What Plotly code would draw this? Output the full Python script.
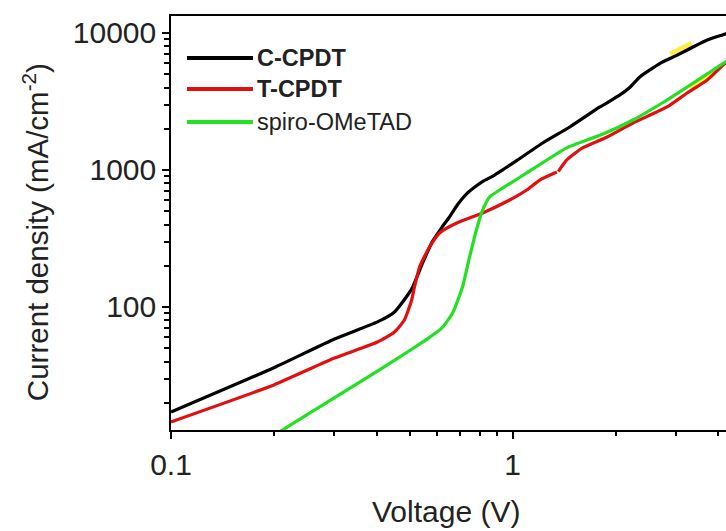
import plotly.graph_objects as go
import math

# ---- data ----
c_cpdt_v = [0.1, 0.2, 0.301, 0.402, 0.451, 0.506, 0.545, 0.582, 0.62, 0.653, 0.69, 0.733,
            0.78, 0.82, 0.873, 0.95, 1.027, 1.224, 1.469, 1.80, 2.05, 2.2, 2.36, 2.70, 3.0,
            3.37, 3.71, 4.19, 4.4]
c_cpdt_j = [17.1, 36, 58.4, 77.8, 92, 135, 210, 300, 380, 454, 560, 670,
            760, 830, 900, 1030, 1170, 1574, 2060, 2884, 3500, 4000, 4800, 6000, 6800,
            7900, 8890, 9840, 10300]

t_cpdt_v = [0.1, 0.2, 0.301, 0.402, 0.451, 0.482, 0.506, 0.516, 0.534, 0.571, 0.611, 0.686,
            0.817, 0.980, 1.099, 1.20, 1.346, None, 1.36, 1.44, 1.60, 1.89, 2.25, 2.83, 3.24,
            3.71, 4.19, 4.4]
t_cpdt_j = [14.5, 27, 42.4, 55.5, 65.7, 80.4, 112, 140, 196, 274, 347, 410,
            486, 604, 714, 845, 967, None, 975, 1183, 1448, 1741, 2203, 2884, 3648,
            4539, 6040, 6800]

spiro_v = [0.1936, 0.212, 0.294, 0.402, 0.513, 0.560, 0.62, 0.667, 0.713, 0.748, 0.783, 0.817,
           0.856, 0.916, 1.0, 1.099, 1.44, 1.80, 2.25, 2.83, 3.24, 3.86, 4.19, 4.4]
spiro_j = [10.7, 12.65, 21, 34, 50.2, 58, 70, 90.4, 140, 232, 365, 511,
           635, 714, 820, 951, 1450, 1790, 2317, 3243, 4034, 5370, 6140, 6700]

# faint yellow highlight artefacts seen in the reference
hl1_v = [2.9, 3.35]
hl1_j = [6900, 8300]
hl2_v = [3.3, 3.9]
hl2_j = [3900, 5200]

series_names = ["C-CPDT", "T-CPDT", "spiro-OMeTAD"]
series_colors = ["#000000", "#e01010", "#22e022"]
x_ticks = [0.1, 1]
x_ticktext = ["0.1", "1"]
y_ticks = [100, 1000, 10000]
y_ticktext = ["100", "1000", "10000"]
x_minor = [0.2, 0.3, 0.4, 0.5, 0.6, 0.7, 0.8, 0.9, 2, 3, 4]
y_minor = [20, 30, 40, 50, 60, 70, 80, 90, 200, 300, 400, 500, 600, 700, 800, 900,
           2000, 3000, 4000, 5000, 6000, 7000, 8000, 9000]

FONT = "Liberation Sans, Arial, sans-serif"
TXT = "#222222"

fig = go.Figure()
for hv, hj in [(hl1_v, hl1_j), (hl2_v, hl2_j)]:
    fig.add_trace(go.Scatter(x=hv, y=hj, mode="lines", showlegend=False, hoverinfo="skip",
                             line=dict(color="rgba(255,235,40,0.85)", width=7)))

for v, j, nm, col in [(c_cpdt_v, c_cpdt_j, series_names[0], series_colors[0]),
                      (t_cpdt_v, t_cpdt_j, series_names[1], series_colors[1]),
                      (spiro_v, spiro_j, series_names[2], series_colors[2])]:
    fig.add_trace(go.Scatter(x=v, y=j, mode="lines", name=nm, showlegend=False,
                             connectgaps=False,
                             line=dict(color=col, width=3.2, shape="spline", smoothing=0.5)))

fig.update_layout(
    width=726, height=531,
    margin=dict(l=171, r=0, t=16, b=101),
    paper_bgcolor="white", plot_bgcolor="white",
    font=dict(family=FONT, color=TXT),
    xaxis=dict(type="log", range=[-1, math.log10(4.21)], showgrid=False, zeroline=False,
               showline=True, linecolor="black", linewidth=1.5, mirror=True,
               ticks="outside", ticklen=7, tickwidth=1.5, tickcolor="black",
               tickmode="array", tickvals=x_ticks, ticktext=x_ticktext,
               tickfont=dict(size=30, family=FONT, color=TXT),
               minor=dict(tickmode="array", tickvals=x_minor, ticks="outside",
                          ticklen=4, tickwidth=1.5, tickcolor="black", showgrid=False)),
    yaxis=dict(type="log", range=[math.log10(12.65), 4.124], showgrid=False, zeroline=False,
               showline=True, linecolor="black", linewidth=1.5, mirror=False,
               ticks="outside", ticklen=7, tickwidth=1.5, tickcolor="black",
               tickmode="array", tickvals=y_ticks, ticktext=y_ticktext,
               tickfont=dict(size=30, family=FONT, color=TXT),
               minor=dict(tickmode="array", tickvals=y_minor, ticks="outside",
                          ticklen=5, tickwidth=1.5, tickcolor="black", showgrid=False)),
)

# axis titles
fig.add_annotation(text="Voltage (V)", xref="paper", yref="paper", x=0.4955, y=-0.1957,
                   xanchor="center", yanchor="middle", showarrow=False,
                   font=dict(size=30, family=FONT, color=TXT))
fig.add_annotation(text="Current density (mA/cm<sup>-2</sup>)", xref="paper", yref="paper",
                   x=-0.245, y=0.478, textangle=-90, xanchor="center", yanchor="middle",
                   showarrow=False, font=dict(size=29.5, family=FONT, color=TXT))

# manual legend
legend_y = [0.8986, 0.8237, 0.744]
legend_bold = [True, True, False]
for nm, col, ly, b in zip(series_names, series_colors, legend_y, legend_bold):
    fig.add_shape(type="line", xref="paper", yref="paper", x0=0.0288, x1=0.1477, y0=ly, y1=ly,
                  line=dict(color=col, width=4))
    fig.add_annotation(text=f"<b>{nm}</b>" if b else nm, xref="paper", yref="paper",
                       x=0.152, y=ly, xanchor="left", yanchor="middle", showarrow=False,
                       font=dict(size=23.5, family=FONT, color=TXT))

fig.write_html("out.html")
